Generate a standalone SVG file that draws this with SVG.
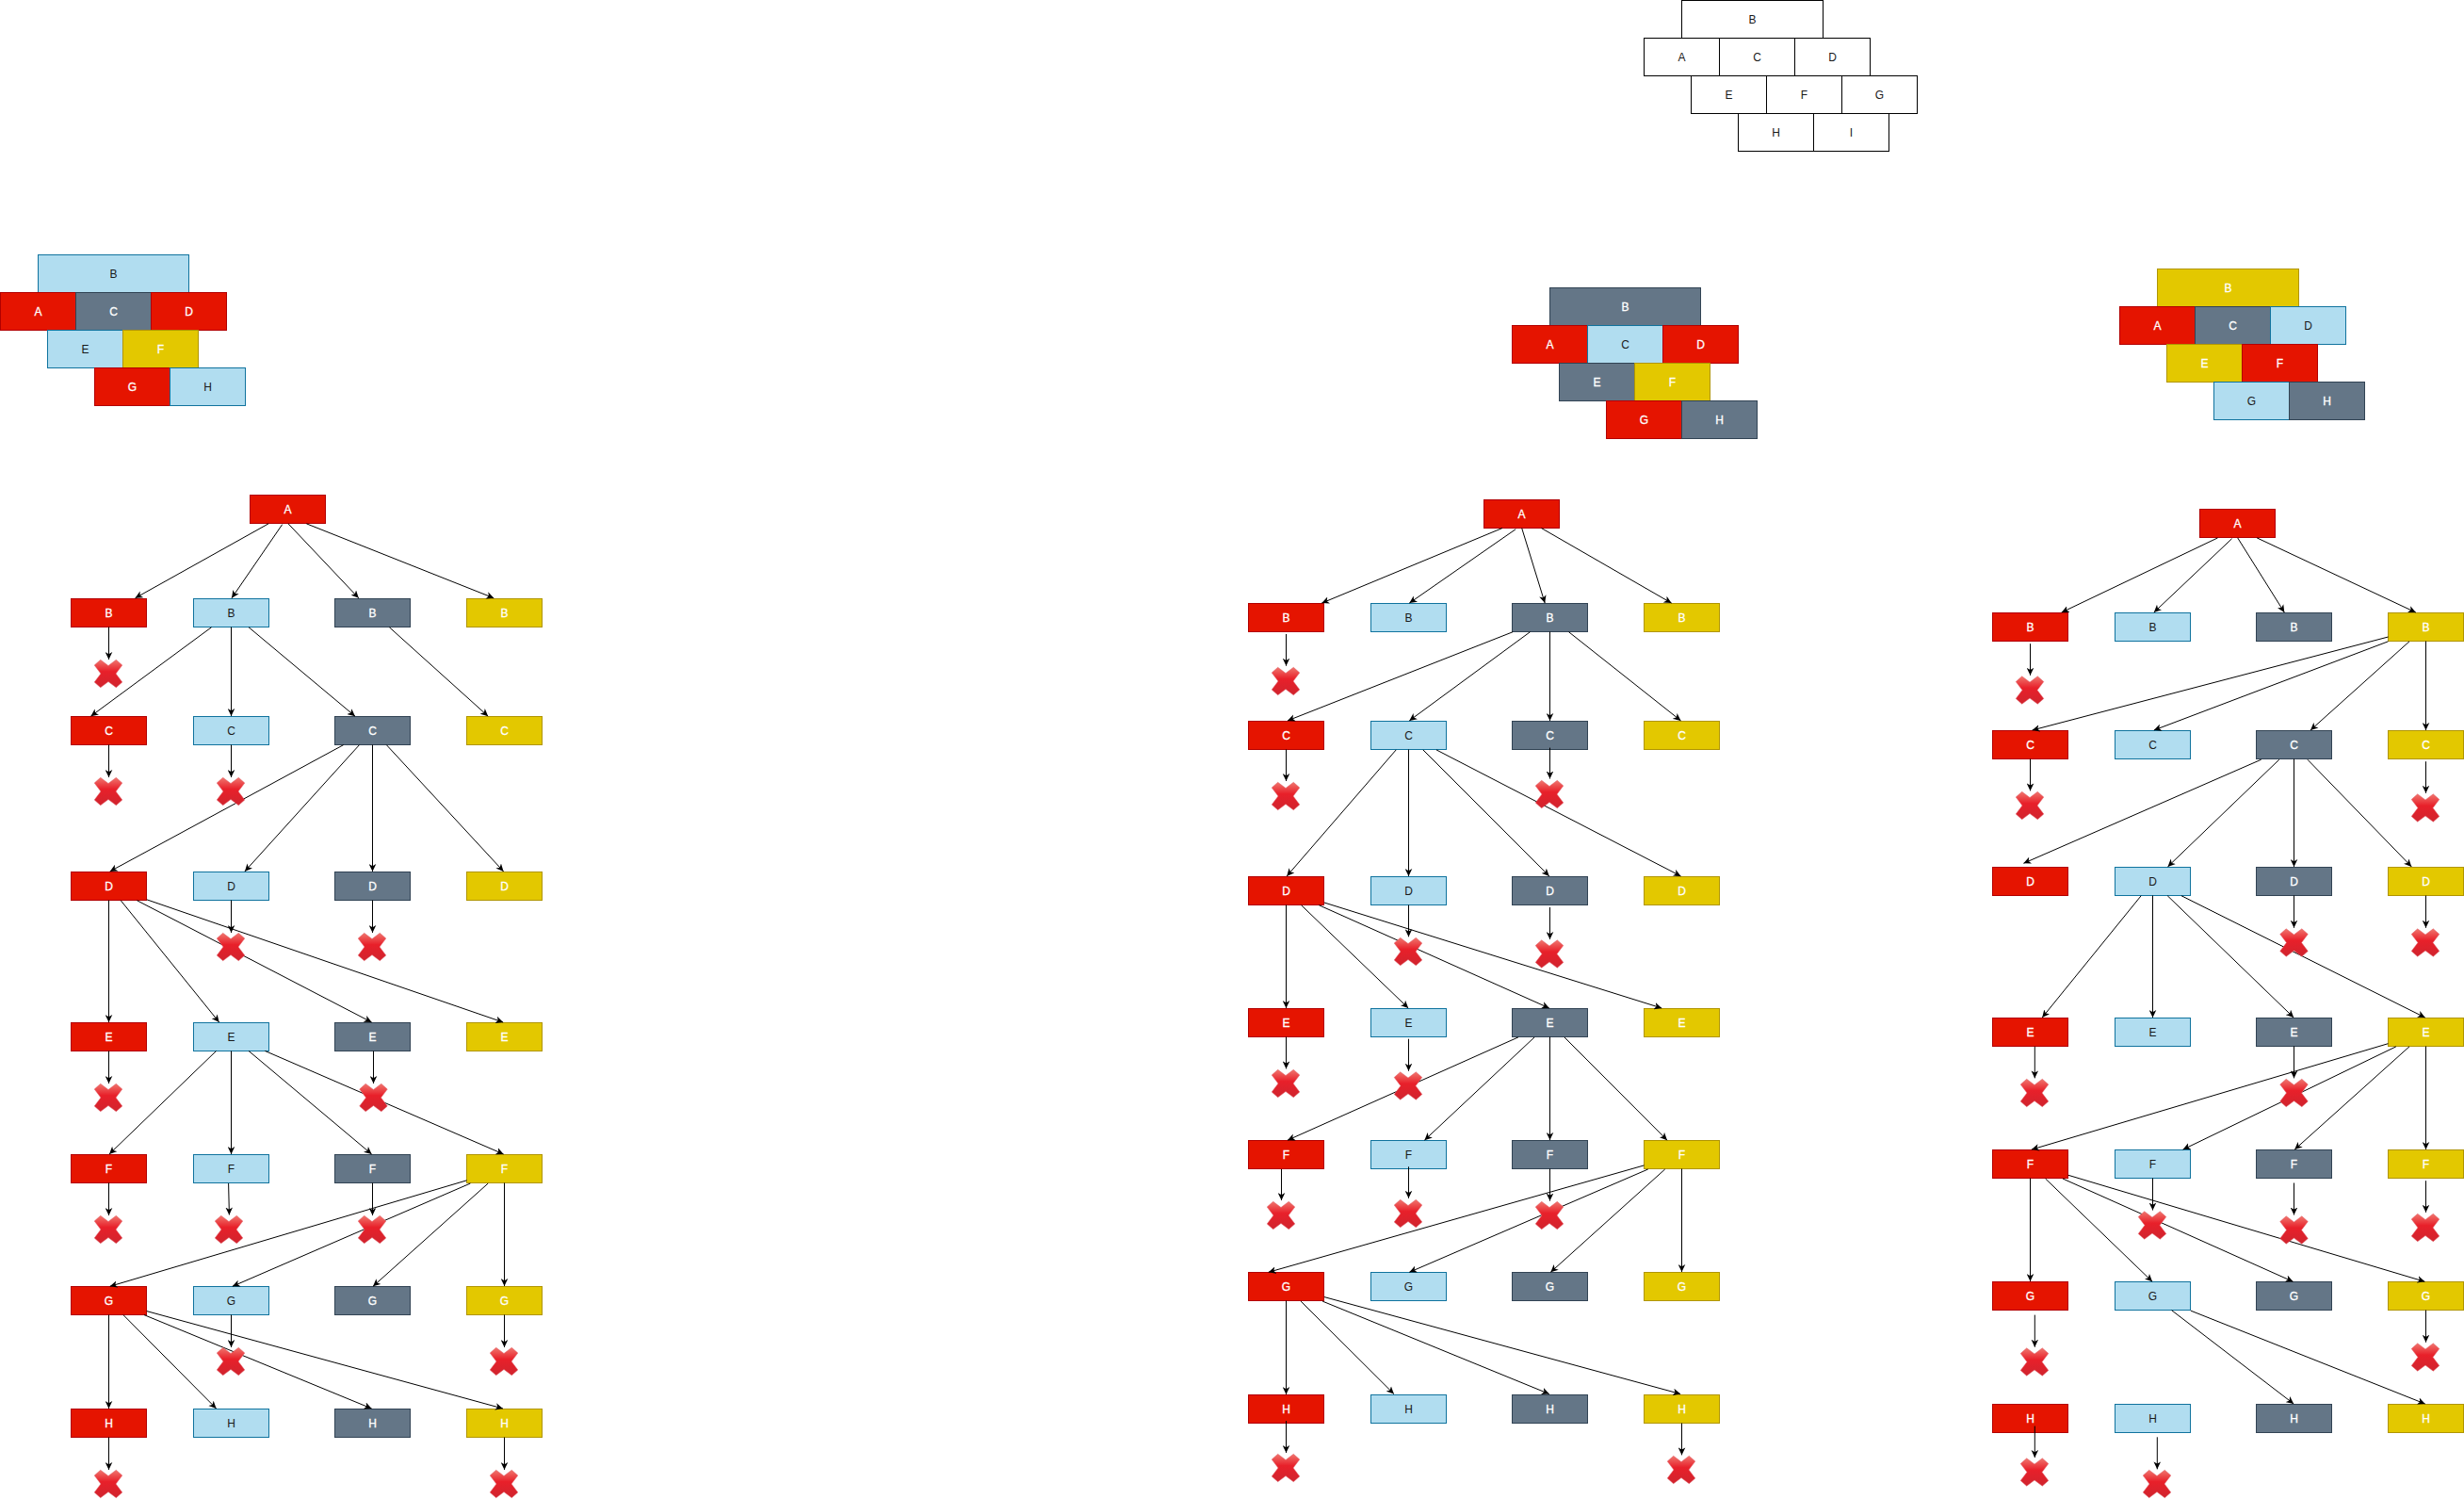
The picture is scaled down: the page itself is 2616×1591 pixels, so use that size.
<svg xmlns="http://www.w3.org/2000/svg" xmlns:xlink="http://www.w3.org/1999/xlink" width="2616" height="1591" viewBox="0 0 2616 1591">
<style>
text{font-family:"Liberation Sans",Arial,sans-serif;font-size:12px;text-anchor:middle;dominant-baseline:central}
rect{stroke-width:1}
.r rect{fill:#e51400;stroke:#b20000}.r text{fill:#fff;stroke:#fff;stroke-width:.3}
.b rect{fill:#b1ddf0;stroke:#10739e}.b text{fill:#1a1a1a}
.s rect{fill:#647687;stroke:#314354}.s text{fill:#fff;stroke:#fff;stroke-width:.3}
.y rect{fill:#e3c800;stroke:#b09500}.y text{fill:#fff;stroke:#fff;stroke-width:.3}
.w rect{fill:#fff;stroke:#000}.w text{fill:#1a1a1a}
</style>
<defs>
<marker id="a" markerUnits="userSpaceOnUse" viewBox="0 0 8 8" markerWidth="8" markerHeight="8" refX="8" refY="4" orient="auto"><path d="M8,4L0,.2L2.200,4L0,7.800Z" fill="#000" stroke="none"/></marker>
<linearGradient id="xg" x1="0" y1="0" x2="0" y2="1"><stop offset="0" stop-color="#f0766e"/><stop offset=".42" stop-color="#e8202a"/><stop offset="1" stop-color="#d0242e"/></linearGradient>
<path id="x" d="M6.700,.3L15,6.500L23.300,.3L29.800,6L23,15L29.800,24L23.300,29.700L15,23.500L6.700,29.700L.2,24L7,15L.2,6Z" fill="url(#xg)" stroke="#e0606a" stroke-width=".5" stroke-linejoin="round"/>
</defs>
<g id="table-plain">
<g id="p-B" class="w"><rect x="1785.5" y=".5" width="150" height="40"/><text x="1860.500" y="20.500">B</text></g>
<g id="p-A" class="w"><rect x="1745.500" y="40.500" width="80" height="40"/><text x="1785.500" y="60.500">A</text></g>
<g id="p-C" class="w"><rect x="1825.500" y="40.500" width="80" height="40"/><text x="1865.500" y="60.500">C</text></g>
<g id="p-D" class="w"><rect x="1905.500" y="40.500" width="80" height="40"/><text x="1945.500" y="60.500">D</text></g>
<g id="p-E" class="w"><rect x="1795.500" y="80.500" width="80" height="40"/><text x="1835.500" y="100.500">E</text></g>
<g id="p-F" class="w"><rect x="1875.500" y="80.500" width="80" height="40"/><text x="1915.500" y="100.500">F</text></g>
<g id="p-G" class="w"><rect x="1955.500" y="80.500" width="80" height="40"/><text x="1995.500" y="100.500">G</text></g>
<g id="p-H" class="w"><rect x="1845.500" y="120.500" width="80" height="40"/><text x="1885.500" y="140.500">H</text></g>
<g id="p-I" class="w"><rect x="1925.500" y="120.500" width="80" height="40"/><text x="1965.500" y="140.500">I</text></g>
</g>
<g id="table-1">
<g id="k1-B" class="b"><rect x="40.500" y="270.500" width="160" height="40"/><text x="120.500" y="290.500">B</text></g>
<g id="k1-A" class="r"><rect x=".5" y="310.500" width="80" height="40"/><text x="40.500" y="330.500">A</text></g>
<g id="k1-C" class="s"><rect x="80.500" y="310.500" width="80" height="40"/><text x="120.500" y="330.500">C</text></g>
<g id="k1-D" class="r"><rect x="160.500" y="310.500" width="80" height="40"/><text x="200.500" y="330.500">D</text></g>
<g id="k1-E" class="b"><rect x="50.500" y="350.500" width="80" height="40"/><text x="90.500" y="370.500">E</text></g>
<g id="k1-F" class="y"><rect x="130.500" y="350.500" width="80" height="40"/><text x="170.500" y="370.500">F</text></g>
<g id="k1-G" class="r"><rect x="100.500" y="390.500" width="80" height="40"/><text x="140.500" y="410.500">G</text></g>
<g id="k1-H" class="b"><rect x="180.500" y="390.500" width="80" height="40"/><text x="220.500" y="410.500">H</text></g>
</g>
<g id="table-2">
<g id="k2-B" class="s"><rect x="1645.500" y="305.500" width="160" height="40"/><text x="1725.500" y="325.500">B</text></g>
<g id="k2-A" class="r"><rect x="1605.500" y="345.500" width="80" height="40"/><text x="1645.500" y="365.500">A</text></g>
<g id="k2-C" class="b"><rect x="1685.500" y="345.500" width="80" height="40"/><text x="1725.500" y="365.500">C</text></g>
<g id="k2-D" class="r"><rect x="1765.500" y="345.500" width="80" height="40"/><text x="1805.500" y="365.500">D</text></g>
<g id="k2-E" class="s"><rect x="1655.500" y="385.500" width="80" height="40"/><text x="1695.500" y="405.500">E</text></g>
<g id="k2-F" class="y"><rect x="1735.500" y="385.500" width="80" height="40"/><text x="1775.500" y="405.500">F</text></g>
<g id="k2-G" class="r"><rect x="1705.500" y="425.500" width="80" height="40"/><text x="1745.500" y="445.500">G</text></g>
<g id="k2-H" class="s"><rect x="1785.500" y="425.500" width="80" height="40"/><text x="1825.500" y="445.500">H</text></g>
</g>
<g id="table-3">
<g id="k3-B" class="y"><rect x="2290.500" y="285.500" width="150" height="40"/><text x="2365.500" y="305.500">B</text></g>
<g id="k3-A" class="r"><rect x="2250.500" y="325.500" width="80" height="40"/><text x="2290.500" y="345.500">A</text></g>
<g id="k3-C" class="s"><rect x="2330.500" y="325.500" width="80" height="40"/><text x="2370.500" y="345.500">C</text></g>
<g id="k3-D" class="b"><rect x="2410.500" y="325.500" width="80" height="40"/><text x="2450.500" y="345.500">D</text></g>
<g id="k3-E" class="y"><rect x="2300.500" y="365.500" width="80" height="40"/><text x="2340.500" y="385.500">E</text></g>
<g id="k3-F" class="r"><rect x="2380.500" y="365.500" width="80" height="40"/><text x="2420.500" y="385.500">F</text></g>
<g id="k3-G" class="b"><rect x="2350.500" y="405.500" width="80" height="40"/><text x="2390.500" y="425.500">G</text></g>
<g id="k3-H" class="s"><rect x="2430.500" y="405.500" width="80" height="40"/><text x="2470.500" y="425.500">H</text></g>
</g>
<g id="tree-1">
<g id="t1-A" class="r"><rect x="265.500" y="525.500" width="80" height="30"/><text x="305.500" y="540.500">A</text></g>
<g id="t1-B1" class="r"><rect x="75.500" y="635.500" width="80" height="30"/><text x="115.500" y="650.500">B</text></g>
<g id="t1-B2" class="b"><rect x="205.500" y="635.500" width="80" height="30"/><text x="245.500" y="650.500">B</text></g>
<g id="t1-B3" class="s"><rect x="355.500" y="635.500" width="80" height="30"/><text x="395.500" y="650.500">B</text></g>
<g id="t1-B4" class="y"><rect x="495.500" y="635.500" width="80" height="30"/><text x="535.500" y="650.500">B</text></g>
<g id="t1-C1" class="r"><rect x="75.500" y="760.500" width="80" height="30"/><text x="115.500" y="775.500">C</text></g>
<g id="t1-C2" class="b"><rect x="205.500" y="760.500" width="80" height="30"/><text x="245.500" y="775.500">C</text></g>
<g id="t1-C3" class="s"><rect x="355.500" y="760.500" width="80" height="30"/><text x="395.500" y="775.500">C</text></g>
<g id="t1-C4" class="y"><rect x="495.500" y="760.500" width="80" height="30"/><text x="535.500" y="775.500">C</text></g>
<g id="t1-D1" class="r"><rect x="75.500" y="925.500" width="80" height="30"/><text x="115.500" y="940.500">D</text></g>
<g id="t1-D2" class="b"><rect x="205.500" y="925.500" width="80" height="30"/><text x="245.500" y="940.500">D</text></g>
<g id="t1-D3" class="s"><rect x="355.500" y="925.500" width="80" height="30"/><text x="395.500" y="940.500">D</text></g>
<g id="t1-D4" class="y"><rect x="495.500" y="925.500" width="80" height="30"/><text x="535.500" y="940.500">D</text></g>
<g id="t1-E1" class="r"><rect x="75.500" y="1085.500" width="80" height="30"/><text x="115.500" y="1100.500">E</text></g>
<g id="t1-E2" class="b"><rect x="205.500" y="1085.500" width="80" height="30"/><text x="245.500" y="1100.500">E</text></g>
<g id="t1-E3" class="s"><rect x="355.500" y="1085.500" width="80" height="30"/><text x="395.500" y="1100.500">E</text></g>
<g id="t1-E4" class="y"><rect x="495.500" y="1085.500" width="80" height="30"/><text x="535.500" y="1100.500">E</text></g>
<g id="t1-F1" class="r"><rect x="75.500" y="1225.500" width="80" height="30"/><text x="115.500" y="1240.500">F</text></g>
<g id="t1-F2" class="b"><rect x="205.500" y="1225.500" width="80" height="30"/><text x="245.500" y="1240.500">F</text></g>
<g id="t1-F3" class="s"><rect x="355.500" y="1225.500" width="80" height="30"/><text x="395.500" y="1240.500">F</text></g>
<g id="t1-F4" class="y"><rect x="495.500" y="1225.500" width="80" height="30"/><text x="535.500" y="1240.500">F</text></g>
<g id="t1-G1" class="r"><rect x="75.500" y="1365.500" width="80" height="30"/><text x="115.500" y="1380.500">G</text></g>
<g id="t1-G2" class="b"><rect x="205.500" y="1365.500" width="80" height="30"/><text x="245.500" y="1380.500">G</text></g>
<g id="t1-G3" class="s"><rect x="355.500" y="1365.500" width="80" height="30"/><text x="395.500" y="1380.500">G</text></g>
<g id="t1-G4" class="y"><rect x="495.500" y="1365.500" width="80" height="30"/><text x="535.500" y="1380.500">G</text></g>
<g id="t1-H1" class="r"><rect x="75.500" y="1495.500" width="80" height="30"/><text x="115.500" y="1510.500">H</text></g>
<g id="t1-H2" class="b"><rect x="205.500" y="1495.500" width="80" height="30"/><text x="245.500" y="1510.500">H</text></g>
<g id="t1-H3" class="s"><rect x="355.500" y="1495.500" width="80" height="30"/><text x="395.500" y="1510.500">H</text></g>
<g id="t1-H4" class="y"><rect x="495.500" y="1495.500" width="80" height="30"/><text x="535.500" y="1510.500">H</text></g>
</g>
<g id="tree-2">
<g id="t2-A" class="r"><rect x="1575.500" y="530.500" width="80" height="30"/><text x="1615.500" y="545.500">A</text></g>
<g id="t2-B1" class="r"><rect x="1325.500" y="640.500" width="80" height="30"/><text x="1365.500" y="655.500">B</text></g>
<g id="t2-B2" class="b"><rect x="1455.500" y="640.500" width="80" height="30"/><text x="1495.500" y="655.500">B</text></g>
<g id="t2-B3" class="s"><rect x="1605.500" y="640.500" width="80" height="30"/><text x="1645.500" y="655.500">B</text></g>
<g id="t2-B4" class="y"><rect x="1745.500" y="640.500" width="80" height="30"/><text x="1785.500" y="655.500">B</text></g>
<g id="t2-C1" class="r"><rect x="1325.500" y="765.500" width="80" height="30"/><text x="1365.500" y="780.500">C</text></g>
<g id="t2-C2" class="b"><rect x="1455.500" y="765.500" width="80" height="30"/><text x="1495.500" y="780.500">C</text></g>
<g id="t2-C3" class="s"><rect x="1605.500" y="765.500" width="80" height="30"/><text x="1645.500" y="780.500">C</text></g>
<g id="t2-C4" class="y"><rect x="1745.500" y="765.500" width="80" height="30"/><text x="1785.500" y="780.500">C</text></g>
<g id="t2-D1" class="r"><rect x="1325.500" y="930.500" width="80" height="30"/><text x="1365.500" y="945.500">D</text></g>
<g id="t2-D2" class="b"><rect x="1455.500" y="930.500" width="80" height="30"/><text x="1495.500" y="945.500">D</text></g>
<g id="t2-D3" class="s"><rect x="1605.500" y="930.500" width="80" height="30"/><text x="1645.500" y="945.500">D</text></g>
<g id="t2-D4" class="y"><rect x="1745.500" y="930.500" width="80" height="30"/><text x="1785.500" y="945.500">D</text></g>
<g id="t2-E1" class="r"><rect x="1325.500" y="1070.500" width="80" height="30"/><text x="1365.500" y="1085.500">E</text></g>
<g id="t2-E2" class="b"><rect x="1455.500" y="1070.500" width="80" height="30"/><text x="1495.500" y="1085.500">E</text></g>
<g id="t2-E3" class="s"><rect x="1605.500" y="1070.500" width="80" height="30"/><text x="1645.500" y="1085.500">E</text></g>
<g id="t2-E4" class="y"><rect x="1745.500" y="1070.500" width="80" height="30"/><text x="1785.500" y="1085.500">E</text></g>
<g id="t2-F1" class="r"><rect x="1325.500" y="1210.500" width="80" height="30"/><text x="1365.500" y="1225.500">F</text></g>
<g id="t2-F2" class="b"><rect x="1455.500" y="1210.500" width="80" height="30"/><text x="1495.500" y="1225.500">F</text></g>
<g id="t2-F3" class="s"><rect x="1605.500" y="1210.500" width="80" height="30"/><text x="1645.500" y="1225.500">F</text></g>
<g id="t2-F4" class="y"><rect x="1745.500" y="1210.500" width="80" height="30"/><text x="1785.500" y="1225.500">F</text></g>
<g id="t2-G1" class="r"><rect x="1325.500" y="1350.500" width="80" height="30"/><text x="1365.500" y="1365.500">G</text></g>
<g id="t2-G2" class="b"><rect x="1455.500" y="1350.500" width="80" height="30"/><text x="1495.500" y="1365.500">G</text></g>
<g id="t2-G3" class="s"><rect x="1605.500" y="1350.500" width="80" height="30"/><text x="1645.500" y="1365.500">G</text></g>
<g id="t2-G4" class="y"><rect x="1745.500" y="1350.500" width="80" height="30"/><text x="1785.500" y="1365.500">G</text></g>
<g id="t2-H1" class="r"><rect x="1325.500" y="1480.500" width="80" height="30"/><text x="1365.500" y="1495.500">H</text></g>
<g id="t2-H2" class="b"><rect x="1455.500" y="1480.500" width="80" height="30"/><text x="1495.500" y="1495.500">H</text></g>
<g id="t2-H3" class="s"><rect x="1605.500" y="1480.500" width="80" height="30"/><text x="1645.500" y="1495.500">H</text></g>
<g id="t2-H4" class="y"><rect x="1745.500" y="1480.500" width="80" height="30"/><text x="1785.500" y="1495.500">H</text></g>
</g>
<g id="tree-3">
<g id="t3-A" class="r"><rect x="2335.500" y="540.500" width="80" height="30"/><text x="2375.500" y="555.500">A</text></g>
<g id="t3-B1" class="r"><rect x="2115.500" y="650.500" width="80" height="30"/><text x="2155.500" y="665.500">B</text></g>
<g id="t3-B2" class="b"><rect x="2245.500" y="650.500" width="80" height="30"/><text x="2285.500" y="665.500">B</text></g>
<g id="t3-B3" class="s"><rect x="2395.500" y="650.500" width="80" height="30"/><text x="2435.500" y="665.500">B</text></g>
<g id="t3-B4" class="y"><rect x="2535.500" y="650.500" width="80" height="30"/><text x="2575.500" y="665.500">B</text></g>
<g id="t3-C1" class="r"><rect x="2115.500" y="775.500" width="80" height="30"/><text x="2155.500" y="790.500">C</text></g>
<g id="t3-C2" class="b"><rect x="2245.500" y="775.500" width="80" height="30"/><text x="2285.500" y="790.500">C</text></g>
<g id="t3-C3" class="s"><rect x="2395.500" y="775.500" width="80" height="30"/><text x="2435.500" y="790.500">C</text></g>
<g id="t3-C4" class="y"><rect x="2535.500" y="775.500" width="80" height="30"/><text x="2575.500" y="790.500">C</text></g>
<g id="t3-D1" class="r"><rect x="2115.500" y="920.500" width="80" height="30"/><text x="2155.500" y="935.500">D</text></g>
<g id="t3-D2" class="b"><rect x="2245.500" y="920.500" width="80" height="30"/><text x="2285.500" y="935.500">D</text></g>
<g id="t3-D3" class="s"><rect x="2395.500" y="920.500" width="80" height="30"/><text x="2435.500" y="935.500">D</text></g>
<g id="t3-D4" class="y"><rect x="2535.500" y="920.500" width="80" height="30"/><text x="2575.500" y="935.500">D</text></g>
<g id="t3-E1" class="r"><rect x="2115.500" y="1080.500" width="80" height="30"/><text x="2155.500" y="1095.500">E</text></g>
<g id="t3-E2" class="b"><rect x="2245.500" y="1080.500" width="80" height="30"/><text x="2285.500" y="1095.500">E</text></g>
<g id="t3-E3" class="s"><rect x="2395.500" y="1080.500" width="80" height="30"/><text x="2435.500" y="1095.500">E</text></g>
<g id="t3-E4" class="y"><rect x="2535.500" y="1080.500" width="80" height="30"/><text x="2575.500" y="1095.500">E</text></g>
<g id="t3-F1" class="r"><rect x="2115.500" y="1220.500" width="80" height="30"/><text x="2155.500" y="1235.500">F</text></g>
<g id="t3-F2" class="b"><rect x="2245.500" y="1220.500" width="80" height="30"/><text x="2285.500" y="1235.500">F</text></g>
<g id="t3-F3" class="s"><rect x="2395.500" y="1220.500" width="80" height="30"/><text x="2435.500" y="1235.500">F</text></g>
<g id="t3-F4" class="y"><rect x="2535.500" y="1220.500" width="80" height="30"/><text x="2575.500" y="1235.500">F</text></g>
<g id="t3-G1" class="r"><rect x="2115.500" y="1360.500" width="80" height="30"/><text x="2155.500" y="1375.500">G</text></g>
<g id="t3-G2" class="b"><rect x="2245.500" y="1360.500" width="80" height="30"/><text x="2285.500" y="1375.500">G</text></g>
<g id="t3-G3" class="s"><rect x="2395.500" y="1360.500" width="80" height="30"/><text x="2435.500" y="1375.500">G</text></g>
<g id="t3-G4" class="y"><rect x="2535.500" y="1360.500" width="80" height="30"/><text x="2575.500" y="1375.500">G</text></g>
<g id="t3-H1" class="r"><rect x="2115.500" y="1490.500" width="80" height="30"/><text x="2155.500" y="1505.500">H</text></g>
<g id="t3-H2" class="b"><rect x="2245.500" y="1490.500" width="80" height="30"/><text x="2285.500" y="1505.500">H</text></g>
<g id="t3-H3" class="s"><rect x="2395.500" y="1490.500" width="80" height="30"/><text x="2435.500" y="1505.500">H</text></g>
<g id="t3-H4" class="y"><rect x="2535.500" y="1490.500" width="80" height="30"/><text x="2575.500" y="1505.500">H</text></g>
</g>
<g id="connectors" fill="none" stroke="#000" stroke-width="1" marker-end="url(#a)">
<path d="M285.100,555.800L143.500,634.800"/><path d="M299.700,556.600L246,634.800"/><path d="M306,555.800L380.800,634.800"/><path d="M325.300,555.800L524.300,634.800"/>
<path d="M115.500,665.500V700"/><path d="M224.600,665.700L96.400,760.200"/><path d="M245.500,665.500V760"/><path d="M264,665.700L377,760.200"/><path d="M413.300,665.700L518.200,760.200"/>
<path d="M115.500,790.500V825"/><path d="M245.500,790.500V825"/><path d="M364.700,790.600L116.700,924.900"/><path d="M381.500,790.600L259.900,924.900"/><path d="M395.500,790.500V925"/><path d="M410.300,790.600L534.600,924.900"/>
<path d="M245.500,955.500V990"/><path d="M395.500,955.500V990"/><path d="M115.500,955.500V1085"/><path d="M128.200,955.700L232.700,1085"/><path d="M145.400,955.700L394.600,1085"/><path d="M155.800,954.800L534.200,1085"/>
<path d="M115.500,1115.500V1150"/><path d="M396.500,1115.500V1150"/><path d="M229.600,1115.400L116,1225"/><path d="M245.500,1115.500V1225"/><path d="M264,1115.400L394.600,1225"/><path d="M281.300,1115.400L534.600,1225"/>
<path d="M115.500,1255.500V1290"/><path d="M242.600,1256L243.400,1289.500"/><path d="M395.500,1255.500V1290"/><path d="M495.600,1252.800L116.700,1365.300"/><path d="M499.400,1256L246.800,1365.300"/><path d="M518.200,1256L396,1365.300"/><path d="M535.500,1255.500V1365"/>
<path d="M115.500,1395.500V1495"/><path d="M130.900,1395.600L229.600,1495"/><path d="M153,1395.600L394.600,1495"/><path d="M155.800,1391.600L533.900,1495"/>
<path d="M245.500,1395.500V1430"/><path d="M535.500,1395.500V1430"/><path d="M115.500,1525.500V1560"/><path d="M535.500,1525.500V1560"/>

<path d="M1595,560.500L1403.300,640.100"/><path d="M1609.200,561.700L1496.300,640.100"/><path d="M1615.700,560.500L1640.200,640.100"/><path d="M1636.400,560.500L1774.600,640.100"/>
<path d="M1365.500,673V706.700"/><path d="M1606.200,670.700L1367,764.900"/><path d="M1624.500,670.700L1496.300,764.900"/><path d="M1645.500,670.500V765"/><path d="M1665.500,670.700L1784.500,764.900"/>
<path d="M1365.500,795.500V829"/><path d="M1645.500,793.600V826.500"/><path d="M1482.200,795.900L1366.200,929.900"/><path d="M1495.500,795.500V930"/><path d="M1510.900,795.900L1644.800,929.900"/><path d="M1525,795.900L1784.500,929.900"/>
<path d="M1495.500,960.500V994.300"/><path d="M1645.500,963V997"/><path d="M1365.500,960.500V1070"/><path d="M1381.500,960.700L1495.200,1070"/><path d="M1400.300,960.700L1644.800,1070"/><path d="M1406,958L1764.200,1070"/>
<path d="M1365.500,1100.500V1134.400"/><path d="M1495.500,1102.700V1136.700"/><path d="M1611.900,1100.900L1367,1210.200"/><path d="M1629.100,1100.900L1512.400,1210.200"/><path d="M1645.500,1100.500V1210"/><path d="M1660.900,1100.900L1770,1210.200"/>
<path d="M1360.500,1241V1274"/><path d="M1495.500,1238.300V1271.800"/><path d="M1645.500,1240.500V1274.600"/><path d="M1745.500,1236.900L1346.700,1350.300"/><path d="M1749.700,1241L1496.300,1350.300"/><path d="M1767.700,1241L1646.300,1350.300"/><path d="M1785.500,1240.500V1350"/>
<path d="M1365.500,1380.500V1480"/><path d="M1381.100,1381.100L1479.900,1479.500"/><path d="M1404.100,1381.100L1644.800,1479.500"/><path d="M1406,1376.600L1784.100,1479.500"/>
<path d="M1365.500,1508.100V1542"/><path d="M1785.500,1510.500V1544.400"/>

<path d="M2354.500,570.900L2188.700,650"/><path d="M2369.600,571.700L2286.800,650"/><path d="M2375.700,570.900L2425.300,650"/><path d="M2396.200,570.900L2564.800,650"/>
<path d="M2155.500,683.200V716.800"/><path d="M2535.500,676L2157.600,775"/><path d="M2535.500,680.800L2286.800,775"/><path d="M2558,680.800L2453,775"/><path d="M2575.500,680.500V775"/>
<path d="M2155.500,805.500V839.400"/><path d="M2575.500,808.200V841.800"/><path d="M2400.700,806.200L2148.400,916.300"/><path d="M2419.800,806.200L2301.500,919.900"/><path d="M2435.500,805.500V920"/><path d="M2449.900,806.200L2560.300,919.900"/>
<path d="M2435.500,950.500V984.800"/><path d="M2575.500,950.500V984.800"/><path d="M2273.200,950.700L2168.200,1080"/><path d="M2285.500,950.500V1080"/><path d="M2301.200,950.700L2435.200,1080"/><path d="M2315.900,950.700L2574.700,1080"/>
<path d="M2160.300,1110.800V1144.400"/><path d="M2435.500,1110.500V1144.400"/><path d="M2535.400,1107.700L2156.900,1220.100"/><path d="M2543.900,1110.800L2317.600,1220.100"/><path d="M2558,1110.800L2436.200,1220.100"/><path d="M2575.500,1110.500V1220"/>
<path d="M2285.500,1250.500V1284.500"/><path d="M2435.500,1255.500V1289.500"/><path d="M2575.500,1253.200V1286.800"/><path d="M2155.500,1250.500V1360"/><path d="M2171.600,1251L2285.100,1360.300"/><path d="M2190,1251L2434.500,1360.300"/><path d="M2195.900,1247.300L2574.400,1360.300"/>
<path d="M2160.300,1395.600V1429.700"/><path d="M2575.500,1390.500V1424.700"/><path d="M2305.600,1390.700L2435.200,1490"/><path d="M2325.800,1391.100L2574.700,1490"/><path d="M2160.300,1513.600V1547"/><path d="M2290.300,1525.300V1559.400"/>
</g>
<g id="crosses">
<use id="x1-1" href="#x" x="100" y="700"/><use id="x1-2" href="#x" x="100" y="825"/><use id="x1-3" href="#x" x="230" y="825"/><use id="x1-4" href="#x" x="230" y="990"/><use id="x1-5" href="#x" x="380" y="990"/><use id="x1-6" href="#x" x="100" y="1150"/><use id="x1-7" href="#x" x="381.500" y="1150"/><use id="x1-8" href="#x" x="100" y="1290"/><use id="x1-9" href="#x" x="228" y="1290"/><use id="x1-10" href="#x" x="380" y="1290"/><use id="x1-11" href="#x" x="230" y="1430"/><use id="x1-12" href="#x" x="520" y="1430"/><use id="x1-13" href="#x" x="100" y="1560"/><use id="x1-14" href="#x" x="520" y="1560"/>
<use id="x2-1" href="#x" x="1350" y="708"/><use id="x2-2" href="#x" x="1350" y="830"/><use id="x2-3" href="#x" x="1630" y="828"/><use id="x2-4" href="#x" x="1480" y="995"/><use id="x2-5" href="#x" x="1630" y="997.500"/><use id="x2-6" href="#x" x="1350" y="1135"/><use id="x2-7" href="#x" x="1480" y="1137.500"/><use id="x2-8" href="#x" x="1345" y="1275"/><use id="x2-9" href="#x" x="1480" y="1273"/><use id="x2-10" href="#x" x="1630" y="1275"/><use id="x2-11" href="#x" x="1350" y="1543"/><use id="x2-12" href="#x" x="1770" y="1545"/>
<use id="x3-1" href="#x" x="2140" y="717.500"/><use id="x3-2" href="#x" x="2140" y="840"/><use id="x3-3" href="#x" x="2560" y="842.500"/><use id="x3-4" href="#x" x="2420.500" y="985.500"/><use id="x3-5" href="#x" x="2560" y="985.500"/><use id="x3-6" href="#x" x="2145" y="1145"/><use id="x3-7" href="#x" x="2420.500" y="1145"/><use id="x3-8" href="#x" x="2270" y="1285.500"/><use id="x3-9" href="#x" x="2420.500" y="1290.500"/><use id="x3-10" href="#x" x="2560" y="1288"/><use id="x3-11" href="#x" x="2145" y="1430.500"/><use id="x3-12" href="#x" x="2560" y="1425.500"/><use id="x3-13" href="#x" x="2145" y="1547.500"/><use id="x3-14" href="#x" x="2275" y="1560"/>
</g>
</svg>
